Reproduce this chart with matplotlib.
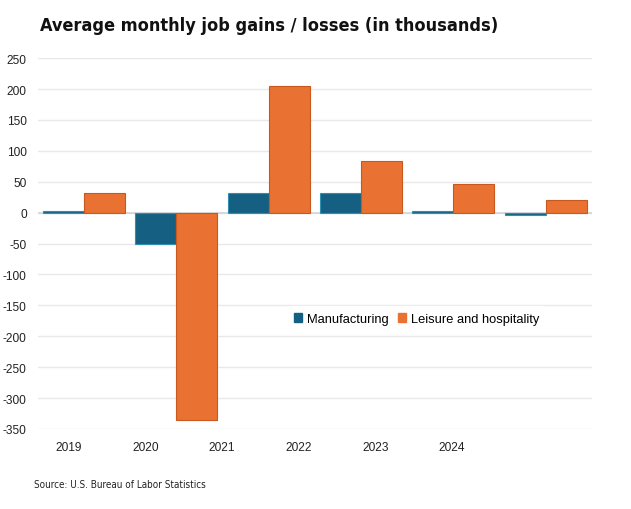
import numpy as np
import matplotlib.pyplot as plt
from matplotlib.patches import Patch

# Data (thousands of jobs, average per month)
years = ['2019', '2020', '2021', '2022', '2023', '2024']
manufacturing = [2, -51, 31, 31, 2, -4]
leisure = [32, -336, 205, 83, 47, 20]

blue = '#156082'
blue_edge = '#2E8FB0'
orange = '#E97132'
orange_edge = '#C9581E'

plt.rcParams['font.family'] = ['Liberation Sans', 'DejaVu Sans']
plt.rcParams['axes.unicode_minus'] = False

fig = plt.figure(figsize=(6.31, 5.10), dpi=100)
ax = fig.add_axes([0.060, 0.157, 0.878, 0.727])

x = np.arange(len(years))
w = 0.444
ax.bar(x - w / 2, manufacturing, w, color=blue, edgecolor=blue_edge, linewidth=0.8, zorder=3)
ax.bar(x + w / 2, leisure, w, color=orange, edgecolor=orange_edge, linewidth=0.8, zorder=3)

ax.set_xlim(-0.5, len(years) - 0.5)
ax.set_ylim(-350, 250)
ax.set_yticks(np.arange(-350, 251, 50))
ax.tick_params(axis='y', length=0, pad=8, labelsize=8.6, labelcolor='#222222')

# year labels sit a bit off the bar groups in the original
ax.set_xticks(-0.164 + x * 0.83)
ax.set_xticklabels(years)
ax.tick_params(axis='x', length=0, pad=9, labelsize=8.6, labelcolor='#222222')

ax.grid(axis='y', color='#E8E8E8', linewidth=1, zorder=0)
ax.axhline(0, color='#D4D4D4', linewidth=1.2, zorder=2)
for s in ax.spines.values():
    s.set_visible(False)

handles = [Patch(facecolor=blue, edgecolor=blue), Patch(facecolor=orange, edgecolor=orange)]
leg = fig.legend(handles, ['Manufacturing', 'Leisure and hospitality'], loc='center',
                 bbox_to_anchor=(0.660, 0.373), ncol=2, frameon=True, fontsize=9.3,
                 handlelength=0.65, handleheight=0.65, handletextpad=0.35,
                 columnspacing=0.7, borderpad=0.5)
leg.get_frame().set_facecolor('white')
leg.get_frame().set_edgecolor('white')
leg.get_frame().set_alpha(1)

fig.text(0.063, 0.949, 'Average monthly job gains / losses (in thousands)',
         family='DejaVu Sans', fontstretch='condensed', fontweight='bold',
         fontsize=13, va='center', ha='left', color='#111111')
fig.text(0.054, 0.049, 'Source: U.S. Bureau of Labor Statistics',
         family='DejaVu Sans', fontstretch='condensed', fontsize=7.1,
         va='center', ha='left', color='#222222')

fig.savefig('out.png', dpi=100)
